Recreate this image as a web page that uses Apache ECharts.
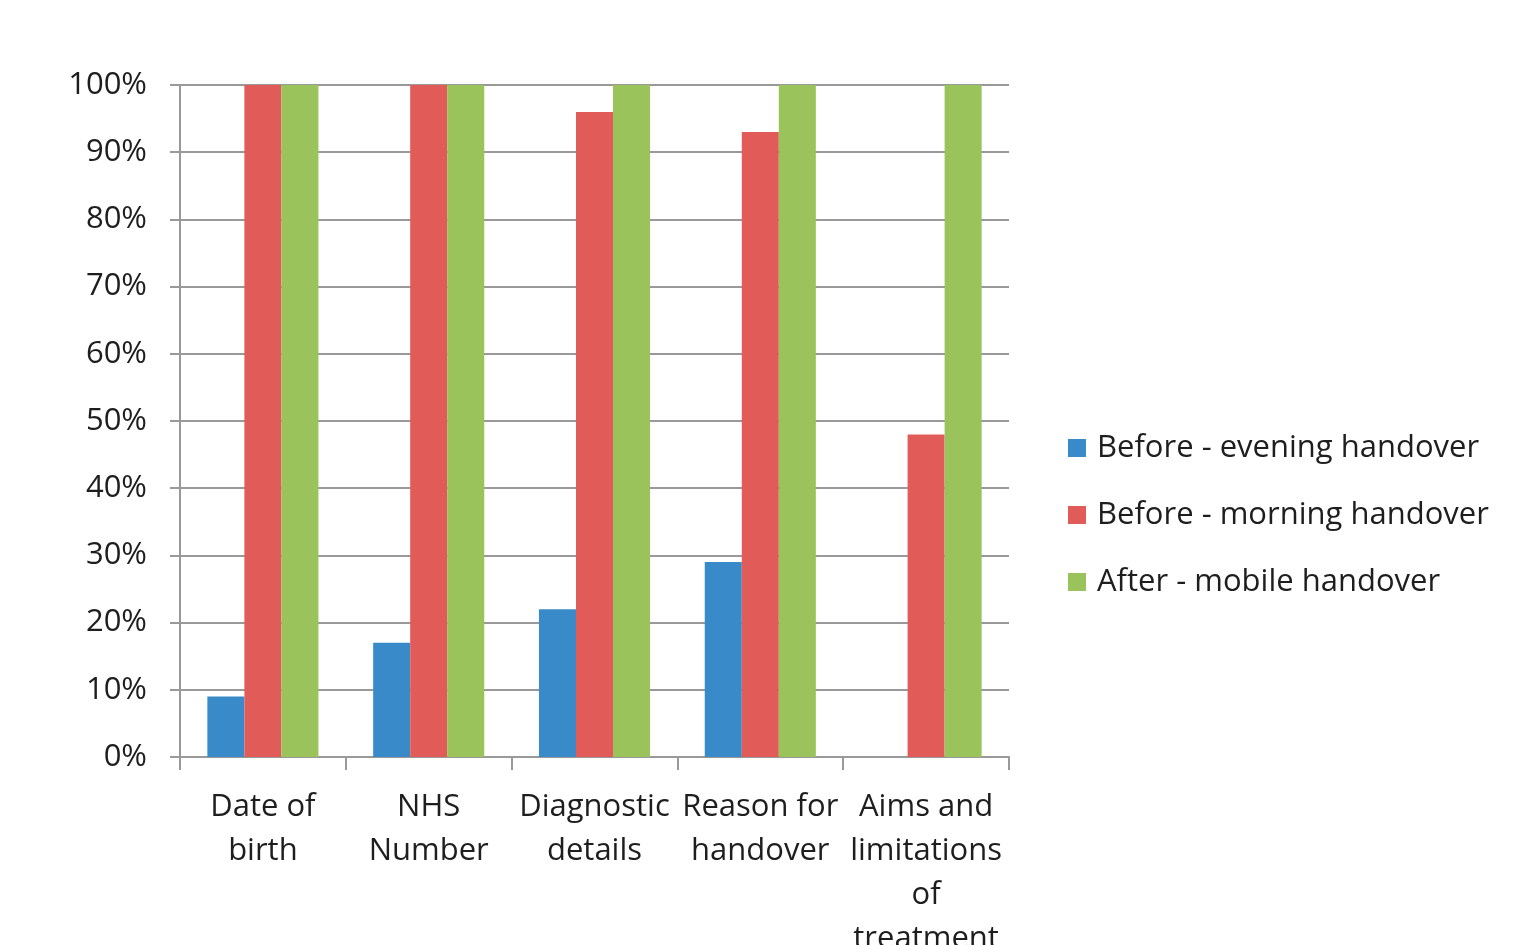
<!DOCTYPE html>
<html>
<head>
<meta charset="utf-8">
<script src="https://cdn.jsdelivr.net/npm/echarts@6/dist/echarts.min.js"></script>
<style>
  html, body { margin: 0; padding: 0; background: #fff; }
  #chart { width: 1533px; height: 945px; }
</style>
</head>
<body>
<div id="chart"></div>
<script>
// Handover data completeness by field
const categories = ['Date of\nbirth', 'NHS\nNumber', 'Diagnostic\ndetails', 'Reason for\nhandover', 'Aims and\nlimitations\nof\ntreatment'];
const seriesNames = ['Before - evening handover', 'Before - morning handover', 'After - mobile handover'];
const eveningValues = [9, 17, 22, 29, 0];
const morningValues = [100, 100, 96, 93, 48];
const mobileValues = [100, 100, 100, 100, 100];
const colors = ['#388bc8', '#e15c58', '#9bc35c'];

const font = 'Open Sans, Noto Sans, sans-serif';
const chart = echarts.init(document.getElementById('chart'));
chart.setOption({
  animation: false,
  color: colors,
  grid: { left: 180, top: 85, width: 829, height: 672, containLabel: false, outerBoundsMode: 'none' },
  legend: {
    orient: 'vertical',
    left: 1063,
    top: 426,
    itemWidth: 18,
    itemHeight: 18,
    itemGap: 33,
    icon: 'rect',
    textStyle: { fontFamily: font, fontSize: 31, lineHeight: 34, color: '#1e1e1e', padding: [0, 0, 0, 6] },
    data: seriesNames
  },
  xAxis: {
    type: 'category',
    data: categories,
    axisLine: { lineStyle: { color: '#999', width: 2 } },
    axisTick: { show: true, length: 13, lineStyle: { color: '#999', width: 2 } },
    axisLabel: { interval: 0, fontFamily: font, fontSize: 31, color: '#1e1e1e', lineHeight: 44, margin: 28 }
  },
  yAxis: {
    type: 'value',
    min: 0,
    max: 100,
    interval: 10,
    axisLine: { show: true, lineStyle: { color: '#999', width: 2 } },
    axisTick: { show: true, length: 10, lineStyle: { color: '#999', width: 2 } },
    splitLine: { lineStyle: { color: '#999', width: 2 } },
    axisLabel: { formatter: '{value}%', fontFamily: font, fontSize: 31, color: '#1e1e1e', margin: 33 }
  },
  series: [
    { name: seriesNames[0], type: 'bar', data: eveningValues, barGap: '0%', barCategoryGap: '33%' },
    { name: seriesNames[1], type: 'bar', data: morningValues, barGap: '0%', barCategoryGap: '33%' },
    { name: seriesNames[2], type: 'bar', data: mobileValues, barGap: '0%', barCategoryGap: '33%' }
  ]
});
</script>
</body>
</html>
